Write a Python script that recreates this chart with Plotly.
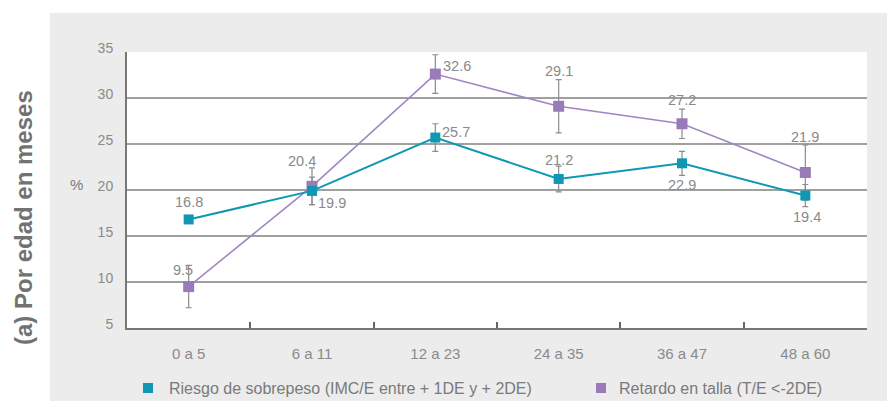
import plotly.graph_objects as go

# Age groups (months)
categories = ["0 a 5", "6 a 11", "12 a 23", "24 a 35", "36 a 47", "48 a 60"]

# Overweight risk (BMI/A between +1SD and +2SD), %
riesgo = [16.8, 19.9, 25.7, 21.2, 22.9, 19.4]
riesgo_err = [0.0, 1.5, 1.5, 1.4, 1.3, 1.2]

# Stunting (H/A < -2SD), %
retardo = [9.5, 20.4, 32.6, 29.1, 27.2, 21.9]
retardo_err = [2.3, 2.0, 2.1, 2.9, 1.6, 3.0]

series_names = ["Riesgo de sobrepeso (IMC/E entre + 1DE y + 2DE)", "Retardo en talla (T/E <-2DE)"]

# Label offsets in pixels (dx, dy) for each value label
riesgo_label_offsets = [(0, 17), (20, -12), (21, 6), (0, 19), (0, -22), (2, -21)]
retardo_label_offsets = [(-6, 17), (-10, 25), (22, 8), (0, 35), (0, 24), (0, 36)]

TEAL = "#0f98b3"
PURPLE = "#9a7bb9"
PURPLE_LINE = "#a087c2"
GRID = "#a0a0a0"
TEXT = "#8a8a8a"
FONT = "Liberation Sans, Arial, sans-serif"

W, H = 895, 401
L, R, T, B = 127, 28, 52, 73
pw, ph = W - L - R, H - T - B


def px_x(x):
    return (x - L) / pw


def px_y(y):
    return (H - B - y) / ph


fig = go.Figure()

err_style = dict(type="data", visible=True, color="#8c8c8c", thickness=1.2, width=3)

fig.add_trace(go.Scatter(
    x=categories, y=retardo, mode="lines+markers", name=series_names[1],
    line=dict(color=PURPLE_LINE, width=1.6),
    marker=dict(symbol="square", size=11, color=PURPLE),
    error_y=dict(array=retardo_err, **err_style),
    showlegend=False, cliponaxis=False,
))
fig.add_trace(go.Scatter(
    x=categories, y=riesgo, mode="lines+markers", name=series_names[0],
    line=dict(color=TEAL, width=2),
    marker=dict(symbol="square", size=10, color=TEAL),
    error_y=dict(array=riesgo_err, **err_style),
    showlegend=False, cliponaxis=False,
))

annotations = []
for vals, offs in ((riesgo, riesgo_label_offsets), (retardo, retardo_label_offsets)):
    for cat, v, (dx, dy) in zip(categories, vals, offs):
        annotations.append(dict(
            x=cat, y=v, xref="x", yref="y", text=f"{v:.1f}", showarrow=False,
            xshift=dx, yshift=dy, font=dict(family=FONT, size=14.5, color=TEXT),
        ))

annotations.append(dict(
    x=px_x(76), y=px_y(184), xref="paper", yref="paper", text="%", showarrow=False,
    xanchor="center", yanchor="middle",
    font=dict(family=FONT, size=15, color="#7a7a7a"),
))
annotations.append(dict(
    x=px_x(23), y=px_y(218), xref="paper", yref="paper", text="<b>(a) Por edad en meses</b>",
    showarrow=False, textangle=-90, xanchor="center", yanchor="middle",
    font=dict(family=FONT, size=24, color="#727272"),
))

shapes = [
    dict(type="rect", xref="paper", yref="paper", layer="below",
         x0=px_x(50), x1=px_x(887), y0=px_y(401), y1=px_y(13),
         fillcolor="#ececec", line=dict(width=0)),
    dict(type="rect", xref="paper", yref="paper", layer="below",
         x0=0, x1=1, y0=0, y1=1, fillcolor="white", line=dict(width=0)),
]

# Legend: square swatch + label for each series
legend_items = [(148, 167, TEAL, series_names[0]), (601, 617, PURPLE, series_names[1])]
for sx, tx, color, name in legend_items:
    shapes.append(dict(type="rect", xref="paper", yref="paper",
                       x0=px_x(sx - 5), x1=px_x(sx + 5), y0=px_y(388 + 5), y1=px_y(388 - 5),
                       fillcolor=color, line=dict(width=0)))
    annotations.append(dict(x=px_x(tx), y=px_y(388), xref="paper", yref="paper",
                            text=name, showarrow=False, xanchor="left", yanchor="middle",
                            font=dict(family=FONT, size=16, color="#7a7a7a")))

fig.update_layout(
    width=W, height=H,
    margin=dict(l=L, r=R, t=T, b=B, autoexpand=False),
    paper_bgcolor="white", plot_bgcolor="white",
    font=dict(family=FONT, color=TEXT),
    annotations=annotations, shapes=shapes, showlegend=False,
)

fig.update_xaxes(
    type="category", range=[-0.5, 5.5], showgrid=False,
    showline=True, linecolor="#777777", linewidth=2,
    ticks="inside", ticklen=6, tickcolor="#666666", tickwidth=1.5, tickson="boundaries",
    tickfont=dict(family=FONT, size=15, color=TEXT), ticklabelstandoff=11,
)
fig.update_yaxes(
    range=[5, 35], dtick=5, showgrid=True, gridcolor=GRID, gridwidth=1.5,
    showline=True, linecolor="#777777", linewidth=2, ticks="",
    tickfont=dict(family=FONT, size=14, color=TEXT), ticklabelstandoff=9, ticklabelshift=-4,
    zeroline=False,
)

fig.write_html("out.html")
